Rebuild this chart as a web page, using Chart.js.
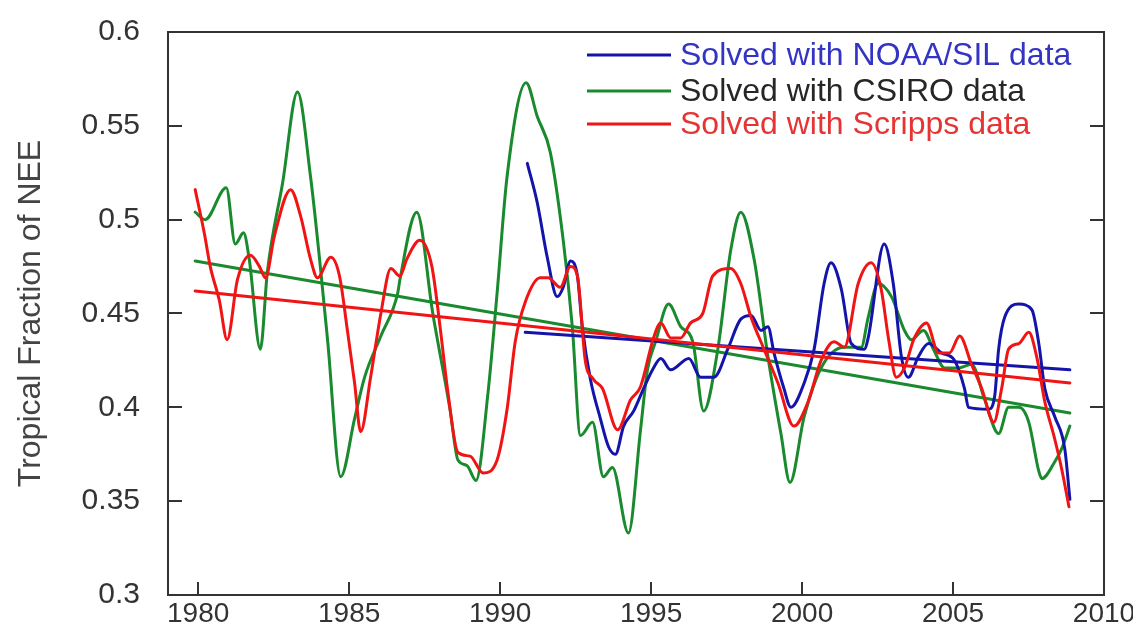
<!DOCTYPE html>
<html>
<head>
<meta charset="utf-8">
<script src="https://cdn.jsdelivr.net/npm/chart.js@4/dist/chart.umd.min.js"></script>
<style>
html,body{margin:0;padding:0;background:#ffffff;}
#wrap{width:1133px;height:629px;position:relative;}
</style>
</head>
<body>
<div id="wrap"><canvas id="c" width="1133" height="629"></canvas></div>
<script>
// ---- tick labels ----
const xTickLabels = [1980, 1985, 1990, 1995, 2000, 2005, 2010];
const yTickLabels = [0.3, 0.35, 0.4, 0.45, 0.5, 0.55, 0.6];
const yAxisTitle = 'Tropical Fraction of NEE';
const legendLabels = ['Solved with NOAA/SIL data', 'Solved with CSIRO data', 'Solved with Scripps data'];

// ---- NOAA/SIL (blue) ----
const noaaYears = [1990.90,1991.23,1991.56,1991.89,1992.09,1992.33,1992.56,1992.72,1992.99,1993.32,1993.59,1993.82,1994.09,1994.42,1994.75,1995.08,1995.32,1995.65,1996.25,1996.64,1997.08,1997.54,1997.97,1998.31,1998.64,1998.87,1999.07,1999.40,1999.63,2000.07,2000.40,2000.73,2000.96,2001.30,2001.63,2002.06,2002.19,2002.72,2003.02,2003.29,2003.52,2003.85,2004.19,2004.62,2005.05,2005.38,2005.51,2006.18,2006.38,2006.51,2006.71,2007.18,2007.61,2007.84,2008.04,2008.37,2008.70,2008.87];
const noaaValues = [0.530,0.509,0.480,0.459,0.464,0.478,0.470,0.443,0.415,0.394,0.379,0.375,0.390,0.398,0.410,0.421,0.426,0.420,0.426,0.416,0.416,0.431,0.447,0.449,0.441,0.443,0.429,0.410,0.400,0.413,0.431,0.466,0.477,0.463,0.434,0.431,0.437,0.487,0.466,0.427,0.416,0.427,0.434,0.429,0.425,0.410,0.400,0.399,0.406,0.431,0.448,0.455,0.452,0.434,0.410,0.395,0.378,0.351];

// ---- CSIRO (green) ----
const csiroYears = [1979.90,1980.23,1980.93,1981.23,1981.50,1981.69,1982.06,1982.29,1982.80,1983.29,1983.72,1984.02,1984.29,1984.72,1985.18,1985.51,1986.05,1986.61,1986.68,1987.24,1987.77,1988.34,1988.60,1988.90,1989.20,1989.60,1989.90,1990.23,1990.86,1991.23,1991.66,1992.09,1992.39,1992.66,1993.06,1993.42,1993.72,1994.25,1994.65,1994.88,1995.15,1995.58,1995.98,1996.38,1996.74,1997.21,1997.64,1997.97,1998.41,1998.87,1999.30,1999.60,2000.07,2000.63,2001.40,2001.96,2002.19,2002.52,2002.96,2003.39,2003.62,2004.02,2004.35,2004.72,2005.18,2005.61,2006.05,2006.51,2006.84,2007.18,2007.51,2007.84,2007.94,2008.37,2008.60,2008.87];
const csiroValues = [0.504,0.500,0.517,0.487,0.493,0.479,0.431,0.472,0.520,0.568,0.523,0.479,0.435,0.363,0.394,0.416,0.438,0.461,0.468,0.504,0.450,0.399,0.372,0.369,0.361,0.408,0.461,0.523,0.573,0.555,0.536,0.489,0.443,0.385,0.392,0.363,0.368,0.333,0.388,0.420,0.435,0.455,0.443,0.435,0.398,0.431,0.484,0.504,0.479,0.427,0.386,0.360,0.395,0.421,0.432,0.432,0.448,0.466,0.459,0.441,0.436,0.441,0.431,0.421,0.421,0.423,0.404,0.386,0.400,0.400,0.392,0.366,0.362,0.371,0.378,0.390];

// ---- Scripps (red) ----
const scrippsYears = [1979.90,1980.20,1980.40,1980.70,1980.96,1981.30,1981.73,1982.03,1982.23,1982.52,1983.06,1983.39,1983.72,1983.95,1984.39,1984.68,1984.95,1985.18,1985.38,1985.71,1986.05,1986.38,1986.68,1986.91,1987.34,1987.74,1988.01,1988.27,1988.60,1989.00,1989.44,1989.90,1990.23,1990.50,1990.83,1991.33,1991.59,1991.99,1992.33,1992.56,1992.82,1993.09,1993.39,1993.89,1994.32,1994.65,1995.08,1995.32,1995.65,1995.98,1996.31,1996.71,1997.04,1997.64,1997.97,1998.31,1998.74,1999.20,1999.73,2000.20,2000.63,2001.06,2001.40,2001.86,2002.29,2002.62,2002.86,2003.12,2003.39,2003.72,2004.12,2004.52,2004.88,2005.22,2005.61,2005.95,2006.35,2006.61,2006.84,2007.18,2007.51,2007.77,2008.04,2008.37,2008.60,2008.84];
const scrippsValues = [0.516,0.493,0.475,0.457,0.436,0.468,0.481,0.475,0.469,0.491,0.516,0.502,0.479,0.469,0.480,0.470,0.440,0.413,0.387,0.416,0.450,0.474,0.470,0.479,0.489,0.475,0.443,0.408,0.376,0.374,0.365,0.372,0.399,0.435,0.456,0.469,0.469,0.464,0.475,0.470,0.425,0.415,0.410,0.388,0.404,0.411,0.437,0.445,0.437,0.437,0.445,0.450,0.470,0.474,0.466,0.448,0.431,0.413,0.390,0.403,0.425,0.435,0.432,0.466,0.477,0.463,0.437,0.416,0.421,0.437,0.445,0.429,0.429,0.438,0.423,0.410,0.392,0.410,0.431,0.434,0.440,0.427,0.403,0.383,0.367,0.347];

// ---- linear trends ----
const noaaTrendYears = [1990.83, 2008.87];
const noaaTrendValues = [0.440, 0.420];
const csiroTrendYears = [1979.90, 2008.87];
const csiroTrendValues = [0.478, 0.397];
const scrippsTrendYears = [1979.90, 2008.87];
const scrippsTrendValues = [0.462, 0.413];

// ---- styles ----
const BLUE = '#1414aa';
const GREEN = '#1a8a2e';
const RED = '#f01414';
const legendLineColors = [BLUE, GREEN, RED];
const legendTextColors = ['#3434c4', '#262626', '#e43434'];
const FONT = '"Liberation Sans", Arial, Helvetica, sans-serif';

function pts(xs, ys) { return xs.map((x, i) => ({ x: x, y: ys[i] })); }

function lineDs(label, xs, ys, color, smooth) {
  return {
    label: label,
    data: pts(xs, ys),
    borderColor: color,
    backgroundColor: color,
    borderWidth: 3,
    pointRadius: 0,
    fill: false,
    cubicInterpolationMode: smooth ? 'monotone' : 'default',
    tension: 0,
    borderJoinStyle: 'round',
    borderCapStyle: 'round'
  };
}

const framePlugin = {
  id: 'frame',
  afterDraw(chart) {
    const ctx = chart.ctx;
    const a = chart.chartArea;
    const xs = chart.scales.x, ys = chart.scales.y;
    ctx.save();
    ctx.strokeStyle = '#333333';
    ctx.lineWidth = 2;
    ctx.strokeRect(a.left, a.top, a.right - a.left, a.bottom - a.top);
    ctx.beginPath();
    yTickLabels.forEach(v => {
      const py = Math.round(ys.getPixelForValue(v));
      if (py <= a.top + 1 || py >= a.bottom - 1) return;
      ctx.moveTo(a.left, py); ctx.lineTo(a.left + 14, py);
      ctx.moveTo(a.right, py); ctx.lineTo(a.right - 14, py);
    });
    xTickLabels.forEach(v => {
      const px = Math.round(xs.getPixelForValue(v));
      if (px <= a.left + 1 || px >= a.right - 1) return;
      ctx.moveTo(px, a.bottom); ctx.lineTo(px, a.bottom - 13);
    });
    ctx.stroke();

    // legend
    const lx0 = a.right - 517, lx1 = a.right - 433, tx = a.right - 424;
    const rows = [a.top + 23, a.top + 59, a.top + 92];
    ctx.font = '32px ' + FONT;
    ctx.textBaseline = 'middle';
    ctx.textAlign = 'left';
    legendLabels.forEach((t, i) => {
      ctx.strokeStyle = legendLineColors[i];
      ctx.lineWidth = 3;
      ctx.beginPath();
      ctx.moveTo(lx0, rows[i]); ctx.lineTo(lx1, rows[i]);
      ctx.stroke();
      ctx.fillStyle = legendTextColors[i];
      ctx.fillText(t, tx, rows[i] + 1);
    });
    ctx.restore();
  }
};

new Chart(document.getElementById('c'), {
  type: 'line',
  data: {
    datasets: [
      lineDs(legendLabels[2], scrippsYears, scrippsValues, RED, true),
      lineDs('Scripps trend', scrippsTrendYears, scrippsTrendValues, RED, false),
      lineDs(legendLabels[0], noaaYears, noaaValues, BLUE, true),
      lineDs('NOAA/SIL trend', noaaTrendYears, noaaTrendValues, BLUE, false),
      lineDs(legendLabels[1], csiroYears, csiroValues, GREEN, true),
      lineDs('CSIRO trend', csiroTrendYears, csiroTrendValues, GREEN, false)
    ]
  },
  options: {
    responsive: false,
    animation: false,
    devicePixelRatio: 1,
    layout: { padding: { left: 0, right: 29, top: 32, bottom: 0 } },
    plugins: { legend: { display: false }, tooltip: { enabled: false } },
    scales: {
      x: {
        type: 'linear',
        min: 1979,
        max: 2010,
        grid: { display: false, drawTicks: false },
        border: { display: false },
        afterBuildTicks: s => { s.ticks = xTickLabels.map(v => ({ value: v })); },
        afterFit: s => { s.height = 34; s.paddingLeft = 0; s.paddingRight = 0; },
        ticks: {
          font: { family: FONT, size: 28 },
          color: '#333333',
          padding: 2,
          maxRotation: 0,
          autoSkip: false,
          callback: v => String(v)
        }
      },
      y: {
        type: 'linear',
        min: 0.3,
        max: 0.6,
        grid: { display: false, drawTicks: false },
        border: { display: false },
        afterBuildTicks: s => { s.ticks = yTickLabels.map(v => ({ value: v })); },
        afterFit: s => { s.width = 168; s.paddingTop = 0; s.paddingBottom = 0; },
        ticks: {
          font: { family: FONT, size: 30 },
          color: '#333333',
          padding: 28,
          autoSkip: false,
          callback: v => String(v)
        },
        title: {
          display: true,
          text: yAxisTitle,
          font: { family: FONT, size: 32 },
          color: '#444444',
          padding: { top: 12, bottom: 0 }
        }
      }
    }
  },
  plugins: [framePlugin]
});
</script>
</body>
</html>
